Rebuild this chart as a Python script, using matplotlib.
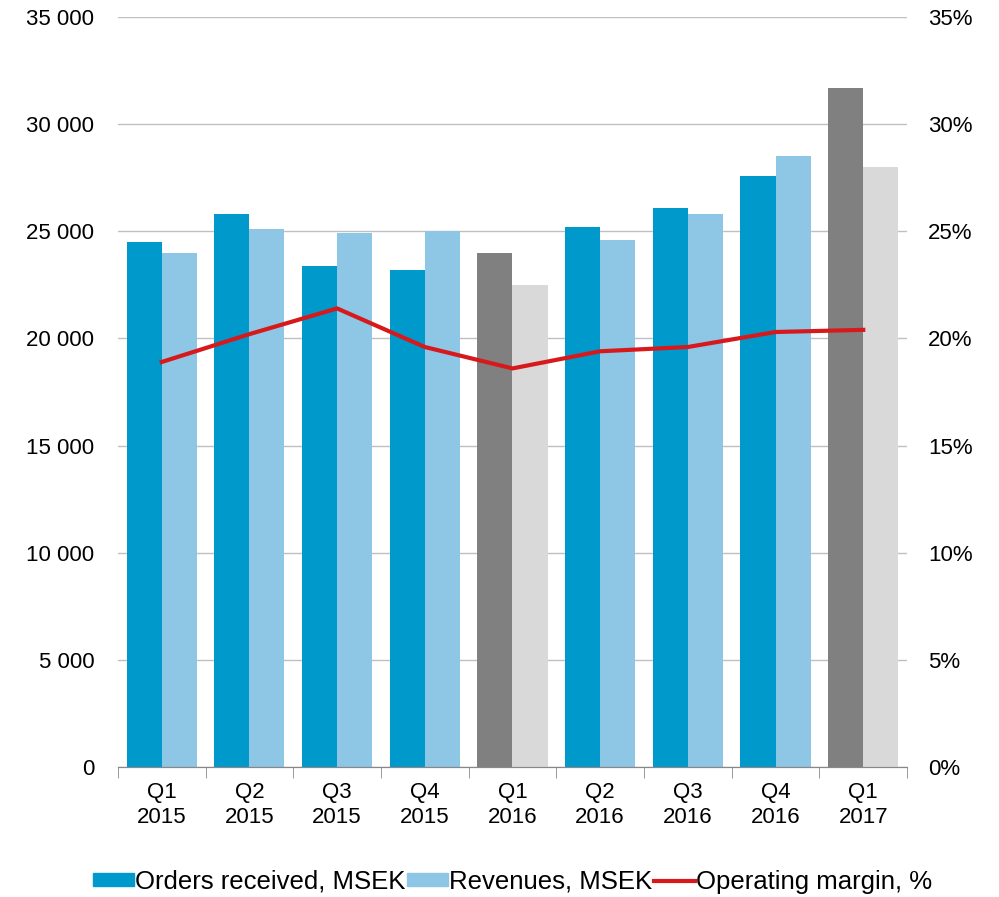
import numpy as np
import matplotlib.pyplot as plt
from matplotlib.patches import Patch
from matplotlib.lines import Line2D

plt.rcParams['font.family'] = ['Liberation Sans', 'DejaVu Sans']

quarters = ['Q1\n2015', 'Q2\n2015', 'Q3\n2015', 'Q4\n2015', 'Q1\n2016',
            'Q2\n2016', 'Q3\n2016', 'Q4\n2016', 'Q1\n2017']
orders = [24500, 25800, 23400, 23200, 24000, 25200, 26100, 27600, 31700]
revenues = [24000, 25100, 24900, 25000, 22500, 24600, 25800, 28500, 28000]
margin = [18.9, 20.2, 21.4, 19.6, 18.6, 19.4, 19.6, 20.3, 20.4]
highlight = [4, 8]  # Q1 bars shown in grey

c_orders = '#0099CC'
c_rev = '#8EC6E6'
c_orders_hl = '#808080'
c_rev_hl = '#D9D9D9'
c_line = '#D7191C'

fig = plt.figure(figsize=(9.99, 8.97), dpi=100)
ax = fig.add_axes([0.118, 0.145, 0.790, 0.836])
ax2 = ax.twinx()

x = np.arange(len(quarters))
w = 0.4
col_o = [c_orders_hl if i in highlight else c_orders for i in x]
col_r = [c_rev_hl if i in highlight else c_rev for i in x]
ax.bar(x - w / 2, orders, w, color=col_o, zorder=2)
ax.bar(x + w / 2, revenues, w, color=col_r, zorder=2)

ax2.plot(x, margin, color=c_line, lw=3, zorder=3)

ax.set_xlim(-0.5, len(quarters) - 0.5)
ax.set_ylim(0, 35000)
ax2.set_ylim(0, 35)
ax.set_yticks(np.arange(0, 35001, 5000))
ax.set_yticklabels([f'{v:,}'.replace(',', ' ') for v in range(0, 35001, 5000)])
ax2.set_yticks(np.arange(0, 36, 5))
ax2.set_yticklabels([f'{v}%' for v in range(0, 36, 5)])

ax.set_xticks(x)
ax.set_xticklabels(quarters, linespacing=1.25)
ax.set_xticks(np.arange(-0.5, len(quarters)), minor=True)
ax.tick_params(axis='x', which='major', length=0, pad=11, labelsize=16)
ax.tick_params(axis='x', which='minor', length=8, color='#888888')
ax.tick_params(axis='y', length=0, pad=17, labelsize=16)
ax2.tick_params(axis='y', length=0, pad=15, labelsize=16)

ax.yaxis.grid(True, color='#C0C0C0', lw=1)
ax.set_axisbelow(True)
for a in (ax, ax2):
    for s in ('top', 'left', 'right'):
        a.spines[s].set_visible(False)
    a.spines['bottom'].set_color('#888888')

handles = [Patch(color=c_orders), Patch(color=c_rev), Line2D([], [], color=c_line, lw=3)]
labels = ['Orders received, MSEK', 'Revenues, MSEK', 'Operating margin, %']
fig.legend(handles, labels, loc='center', bbox_to_anchor=(0.513, 0.017), ncol=3,
           frameon=False, fontsize=18.5, handlelength=1.6, handleheight=0.4,
           handletextpad=0.05, columnspacing=0.05)

fig.savefig('out.png', dpi=100)
